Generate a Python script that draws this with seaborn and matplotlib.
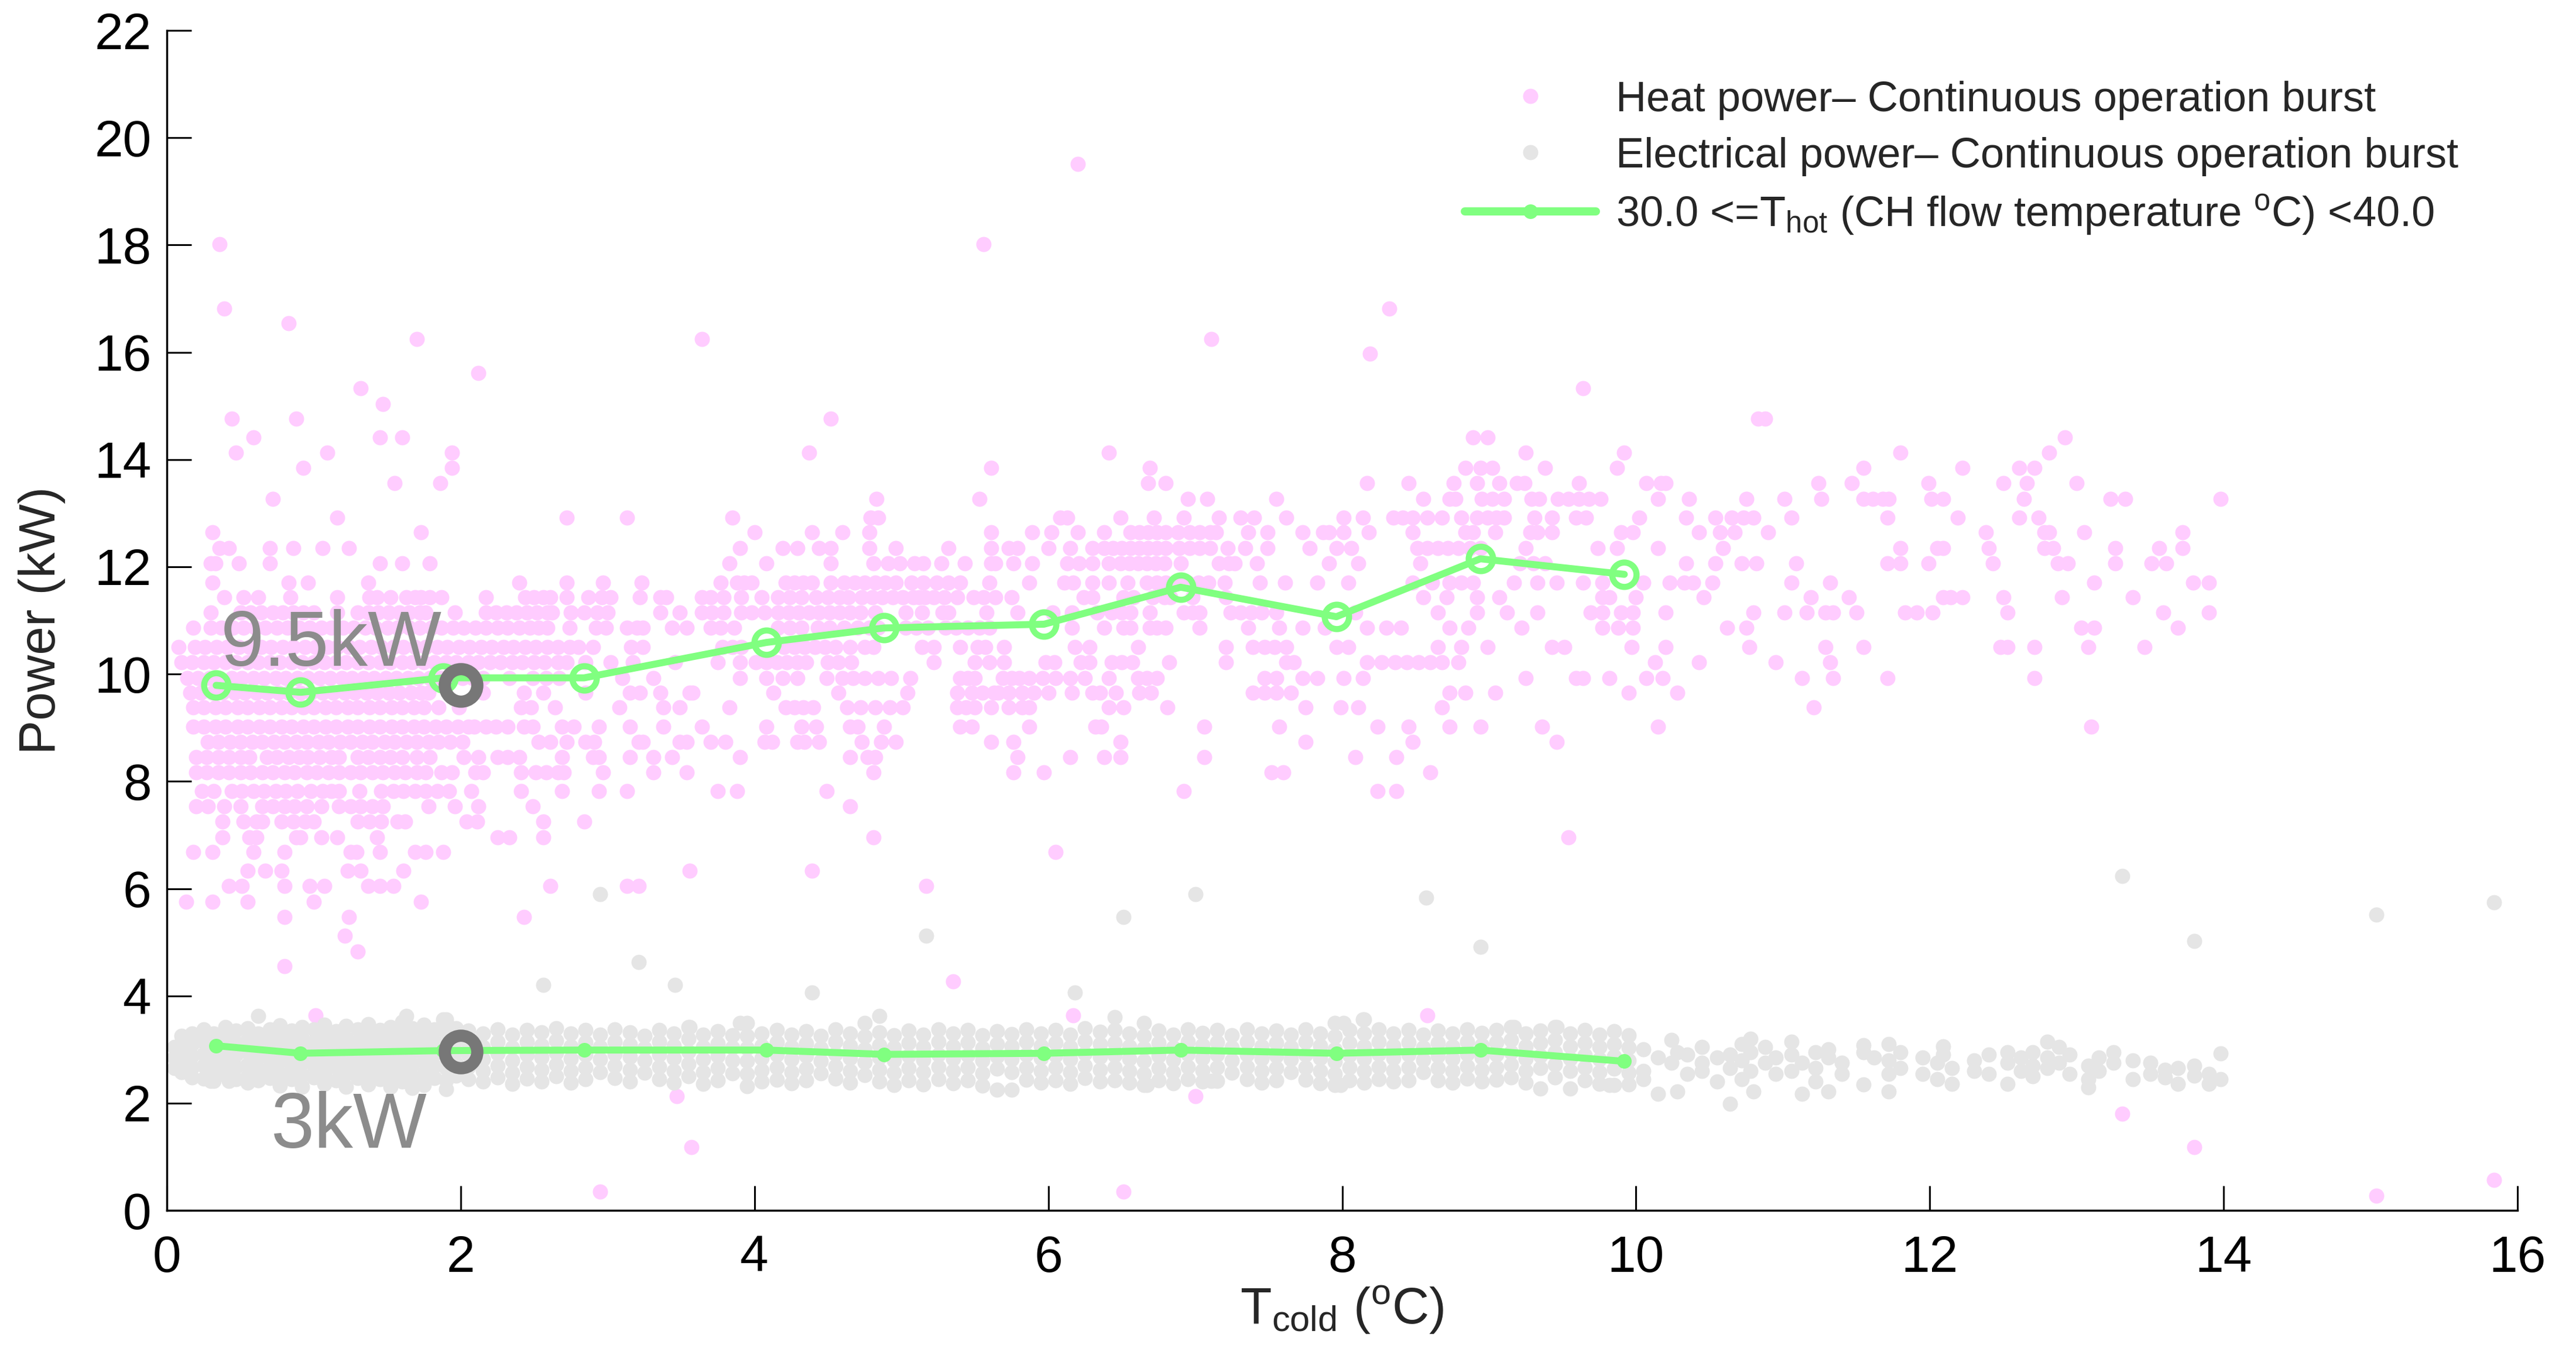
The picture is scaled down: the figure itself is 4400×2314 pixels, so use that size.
import numpy as np
import pandas as pd
import matplotlib
matplotlib.use("Agg")
import matplotlib.pyplot as plt
from matplotlib.lines import Line2D
import seaborn as sns

# ---------------- data ----------------
# Heat power points: each level (kW) with the T_cold values of the points on it
heat_levels = [19.51, 18.02, 16.82, 16.54, 16.25, 15.97, 15.61, 15.33, 15.04, 14.76,
               14.41, 14.13, 13.84, 13.56, 13.27, 12.92, 12.64, 12.35, 12.06, 11.71,
               11.43, 11.15, 10.86, 10.50, 10.22, 9.93, 9.65, 9.38, 9.02, 8.73,
               8.45, 8.17, 7.82, 7.53, 7.25, 6.96, 6.68, 6.33, 6.05, 5.76,
               5.47, 5.12, 4.83, 4.55, 4.27, 3.64, 2.13, 1.80, 1.18, 0.35,
               0.27, 0.57]
heat_level_x = [
    "6.20",
    "0.36 5.56",
    "0.39 8.32",
    "0.83",
    "1.70 3.64 7.11",
    "8.19",
    "2.12",
    "1.32 9.64",
    "1.47",
    "0.44 0.88 4.52 10.83 10.88",
    "0.59 1.45 1.60 8.89 8.99 12.92",
    "0.47 1.09 1.94 4.37 6.41 9.25 9.92 11.80 12.81",
    "0.93 1.94 5.61 6.69 8.84 8.94 9.02 9.38 9.87 11.55 12.22 12.61 12.71",
    "1.55 1.86 6.68 6.80 8.17 8.45 8.76 8.92 9.07 9.19 9.24 9.61 10.07 10.17 10.20 11.24 11.47 11.99 12.50 12.66 13.00",
    "0.72 4.83 5.53 6.95 7.08 7.55 8.55 8.73 8.77 8.95 9.02 9.10 9.29 9.34 9.47 9.54 9.61 9.68 9.76 10.15 10.36 10.75 11.01 11.26 11.55 11.61 11.68 11.72 12.01 12.09 12.64 13.23 13.33 13.98",
    "1.16 2.72 3.13 3.85 4.79 4.84 6.08 6.13 6.49 6.72 6.92 7.16 7.31 7.40 7.62 8.01 8.14 8.35 8.41 8.48 8.58 8.68 8.81 8.92 8.99 9.05 9.10 9.31 9.43 9.59 9.66 10.02 10.34 10.54 10.65 10.73 10.80 11.06 11.71 12.19 12.61 12.74",
    "0.31 1.73 4.00 4.39 4.60 4.78 5.61 5.89 6.02 6.20 6.38 6.56 6.62 6.68 6.74 6.80 6.88 6.96 7.03 7.10 7.14 7.36 7.49 7.73 7.87 7.91 8.01 8.18 8.48 8.84 8.89 9.04 9.28 9.33 9.43 9.90 9.98 10.43 10.57 10.67 10.90 12.38 12.78 12.81 13.05 13.72",
    "0.36 0.42 0.70 0.86 1.06 1.24 3.90 4.19 4.29 4.44 4.52 4.78 4.96 5.32 5.61 5.73 5.79 6.00 6.15 6.30 6.38 6.44 6.50 6.56 6.62 6.68 6.74 6.80 6.89 6.96 7.03 7.10 7.22 7.34 7.49 7.78 7.96 8.06 8.51 8.58 8.65 8.72 8.79 8.87 8.94 9.25 9.74 9.87 10.15 10.59 11.80 12.05 12.09 12.40 12.78 12.84 13.26 13.56 13.72",
    "0.30 0.33 0.49 0.70 1.45 1.60 1.79 3.83 4.08 4.52 4.81 4.91 4.99 5.09 5.15 5.27 5.43 5.61 5.64 5.76 5.89 6.13 6.21 6.30 6.41 6.49 6.55 6.61 6.67 6.73 6.79 6.90 7.16 7.23 7.27 7.42 7.91 8.11 8.53 9.21 9.30 9.38 10.34 10.54 10.72 10.82 11.09 11.71 11.80 11.99 12.43 12.87 12.94 13.26 13.51 13.61",
    "0.31 0.83 0.96 1.37 2.40 2.72 2.97 3.23 3.77 3.88 3.93 3.98 4.21 4.27 4.33 4.39 4.52 4.61 4.68 4.75 4.82 4.89 4.96 5.07 5.15 5.24 5.32 5.40 5.60 5.87 6.11 6.17 6.30 6.41 6.54 6.67 6.74 6.80 6.89 6.95 7.02 7.09 7.20 7.44 7.61 7.83 8.04 8.48 8.61 8.73 8.81 8.89 9.17 9.33 9.46 9.64 9.77 10.05 10.23 10.33 10.39 10.52 11.06 11.32 13.12 13.79 13.90",
    "0.39 0.52 0.62 0.84 1.16 1.38 1.43 1.52 1.63 1.69 1.73 1.79 1.87 2.17 2.44 2.50 2.56 2.61 2.72 2.87 2.96 3.02 3.22 3.36 3.40 3.64 3.70 3.79 3.91 4.05 4.16 4.24 4.32 4.42 4.50 4.58 4.64 4.73 4.80 4.87 4.94 5.01 5.08 5.12 5.16 5.22 5.29 5.38 5.49 5.56 5.64 5.75 6.24 6.30 6.51 6.58 6.71 6.79 6.83 6.98 7.21 8.55 8.71 8.92 9.07 9.77 9.82 10.00 10.46 11.19 11.45 12.09 12.14 12.22 12.50 12.90 13.38",
    "0.30 0.50 0.57 0.64 0.72 0.79 0.86 0.93 1.00 1.16 1.30 1.37 1.44 1.51 1.58 1.65 1.72 1.76 1.96 2.17 2.24 2.31 2.38 2.45 2.52 2.59 2.62 2.75 2.84 2.93 3.00 3.36 3.49 3.64 3.71 3.79 3.91 3.98 4.07 4.16 4.23 4.30 4.37 4.44 4.51 4.58 4.65 4.72 4.82 5.03 5.14 5.28 5.32 5.58 5.79 6.03 6.16 6.33 6.43 6.50 6.56 6.69 6.92 6.98 7.03 7.24 7.31 7.38 7.45 7.55 8.09 8.65 8.92 9.12 9.33 9.69 9.77 9.90 9.98 10.20 10.80 11.01 11.16 11.29 11.34 11.50 11.83 11.91 12.02 12.53 13.59 13.90",
    "0.18 0.30 0.37 0.45 0.52 0.60 0.67 0.75 0.82 0.90 0.97 1.05 1.12 1.20 1.27 1.35 1.42 1.50 1.57 1.65 1.72 1.80 1.87 1.95 2.02 2.10 2.17 2.25 2.32 2.40 2.47 2.53 2.59 2.74 2.92 2.99 3.13 3.20 3.24 3.44 3.54 3.70 3.77 3.86 4.16 4.24 4.32 4.43 4.51 4.61 4.70 4.78 4.84 5.03 5.10 5.18 5.30 5.37 5.45 5.53 5.60 6.16 6.38 6.51 6.56 6.69 6.74 6.80 7.03 7.36 7.57 7.73 7.88 8.17 8.30 8.40 8.73 8.86 9.22 9.77 9.88 9.98 10.62 10.75 13.03 13.12 13.69",
    "0.08 0.19 0.26 0.34 0.41 0.49 0.56 0.64 0.71 0.79 0.86 0.94 1.01 1.09 1.16 1.24 1.31 1.39 1.46 1.54 1.61 1.69 1.76 1.84 1.91 1.99 2.06 2.14 2.21 2.29 2.36 2.44 2.51 2.59 2.66 2.74 2.80 2.90 3.16 3.24 3.78 3.85 3.91 4.20 4.27 4.34 4.41 4.48 4.55 4.65 4.75 4.81 5.14 5.22 5.40 5.52 5.57 5.70 6.18 6.28 6.61 7.21 7.39 7.47 7.54 7.62 7.96 8.04 8.65 8.81 8.99 9.43 9.51 9.97 10.20 10.77 11.29 11.55 12.48 12.53 12.71 13.08 13.46",
    "0.10 0.17 0.25 0.32 0.40 0.47 0.55 0.62 0.70 0.77 0.85 0.92 1.00 1.07 1.15 1.22 1.30 1.37 1.45 1.52 1.60 1.67 1.75 1.82 1.90 1.97 2.05 2.12 2.20 2.27 2.35 2.42 2.50 2.57 2.66 2.72 2.85 3.02 3.17 3.46 3.75 3.90 4.01 4.08 4.15 4.22 4.29 4.35 4.50 4.57 4.66 5.22 5.50 5.60 5.70 5.98 6.04 6.22 6.28 6.43 6.50 6.57 6.82 7.21 7.62 7.67 8.17 8.27 8.36 8.44 8.52 8.60 8.68 8.79 10.13 10.43 10.95 11.32",
    "0.14 0.21 0.29 0.36 0.44 0.51 0.59 0.66 0.74 0.81 0.89 0.96 1.04 1.11 1.19 1.26 1.34 1.41 1.49 1.56 1.64 1.71 1.79 1.86 1.94 2.01 2.08 2.15 2.33 2.49 2.58 2.67 3.10 3.31 3.90 4.08 4.19 4.29 4.49 4.60 4.67 4.75 4.84 4.93 5.06 5.40 5.45 5.50 5.69 5.75 5.80 5.87 5.96 6.05 6.15 6.25 6.41 6.61 6.67 6.74 7.47 7.55 7.73 7.83 8.01 8.14 9.25 9.59 9.64 9.82 10.07 10.18 11.13 11.34 11.71 12.71",
    "0.16 0.23 0.31 0.38 0.46 0.53 0.61 0.68 0.76 0.83 0.91 0.98 1.06 1.13 1.21 1.28 1.36 1.43 1.51 1.58 1.66 1.73 1.78 2.15 2.43 2.56 2.85 3.15 3.22 3.36 3.56 3.58 4.13 4.57 5.04 5.38 5.48 5.55 5.63 5.66 5.73 5.82 5.90 6.00 6.16 6.30 6.35 6.46 6.62 6.70 7.39 7.47 7.55 7.65 8.73 8.84 9.04 9.95 10.28",
    "0.18 0.25 0.33 0.40 0.48 0.55 0.63 0.70 0.78 0.85 0.93 1.00 1.08 1.15 1.23 1.30 1.38 1.45 1.53 1.60 1.68 1.75 1.85 1.99 2.41 2.48 2.64 3.08 3.38 3.49 3.83 4.21 4.27 4.33 4.40 4.63 4.72 4.82 4.92 5.01 5.38 5.44 5.50 5.61 5.73 5.82 5.87 6.41 6.51 6.81 7.75 7.99 8.11 8.68 11.21",
    "0.18 0.25 0.33 0.40 0.48 0.55 0.63 0.70 0.78 0.85 0.93 1.00 1.08 1.15 1.23 1.30 1.38 1.45 1.53 1.60 1.68 1.75 1.83 1.90 1.98 2.05 2.09 2.17 2.24 2.32 2.43 2.49 2.69 2.77 2.94 3.15 3.38 3.64 4.08 4.32 4.42 4.65 4.70 4.88 5.40 5.48 5.87 6.32 6.36 7.06 7.57 8.24 8.45 8.73 8.94 9.36 10.15 13.10",
    "0.28 0.35 0.43 0.50 0.58 0.65 0.73 0.80 0.88 0.95 1.03 1.10 1.18 1.25 1.33 1.40 1.48 1.55 1.63 1.70 1.78 1.85 1.93 2.01 2.53 2.61 2.72 2.85 2.91 3.21 3.24 3.49 3.54 3.70 3.80 4.07 4.12 4.29 4.34 4.44 4.73 4.86 4.96 5.61 5.76 6.49 7.75 8.48 9.46",
    "0.20 0.27 0.35 0.42 0.50 0.56 0.68 0.75 0.83 0.90 0.96 1.04 1.12 1.17 1.30 1.37 1.45 1.52 1.60 1.70 1.79 2.02 2.12 2.25 2.32 2.40 2.69 2.90 2.94 3.15 3.31 3.44 3.90 4.65 4.77 4.82 5.79 6.15 6.38 6.49 7.06 8.09 8.37",
    "0.20 0.27 0.35 0.42 0.50 0.57 0.65 0.72 0.80 0.87 0.95 1.02 1.10 1.17 1.25 1.32 1.40 1.47 1.55 1.62 1.70 1.76 1.87 1.94 2.10 2.15 2.41 2.51 2.58 2.66 2.70 2.97 3.31 3.54 4.81 5.76 5.97 7.52 7.60 8.60",
    "0.24 0.32 0.44 0.51 0.59 0.66 0.74 0.81 0.89 0.98 1.06 1.12 1.17 1.31 1.46 1.54 1.61 1.69 1.76 1.84 1.92 2.07 2.41 2.69 2.94 3.13 3.75 3.88 4.49 6.92 8.24 8.37",
    "0.20 0.28 0.39 0.50 0.65 0.72 0.80 0.87 0.95 1.05 1.17 1.25 1.32 1.40 1.47 1.78 1.96 2.12 2.49 4.65",
    "0.38 0.52 0.61 0.65 0.78 0.86 0.94 1.00 1.30 1.38 1.46 1.57 1.62 2.04 2.11 2.56 2.84",
    "0.38 0.56 0.61 0.88 0.91 1.05 1.16 1.43 2.25 2.33 2.56 4.81 9.54",
    "0.18 0.31 0.59 0.80 1.25 1.29 1.45 1.69 1.76 1.88 6.05",
    "0.55 0.67 0.78 1.23 1.32 1.61 3.56 4.39",
    "0.42 0.51 0.80 0.97 1.07 1.37 1.45 1.54 2.61 3.13 3.21 5.17",
    "0.13 0.31 0.55 1.00 1.73",
    "0.80 1.24 2.43",
    "1.21",
    "1.30",
    "0.80",
    "5.35",
    "1.01 6.17 8.58",
    "3.47 7.00",
    "13.31",
    "3.57 13.80",
    "2.95 6.51",
    "15.04",
    "15.84",
]

# Electrical power points: columns of T_cold with the power values read in each column
elec_col_x = [0.05, 0.10, 0.17, 0.25, 0.32, 0.40, 0.47, 0.55, 0.62, 0.70,
              0.77, 0.85, 0.92, 1.00, 1.07, 1.15, 1.22, 1.30, 1.37, 1.45,
              1.52, 1.60, 1.67, 1.75, 1.82, 1.90, 1.97,
              2.05, 2.15, 2.25, 2.35, 2.45, 2.55, 2.65, 2.75, 2.85, 2.95,
              3.05, 3.15, 3.25, 3.35, 3.45, 3.55, 3.65, 3.75, 3.85, 3.95,
              4.05, 4.15, 4.25, 4.35, 4.45, 4.55, 4.65, 4.75, 4.85, 4.95,
              5.05, 5.15, 5.25, 5.35, 5.45, 5.55, 5.65, 5.75, 5.85, 5.95,
              6.05, 6.15, 6.25, 6.35, 6.45, 6.55, 6.65, 6.75, 6.85, 6.95,
              7.05, 7.15, 7.25, 7.35, 7.45, 7.55, 7.65, 7.75, 7.85, 7.95,
              8.05, 8.15, 8.25, 8.35, 8.45, 8.55, 8.65, 8.75, 8.85, 8.95,
              9.05, 9.15, 9.25, 9.35, 9.45, 9.55, 9.65, 9.75, 9.85, 9.95,
              10.05, 10.15, 10.24, 10.28, 10.35, 10.45, 10.55, 10.64, 10.72, 10.78,
              10.80, 10.88, 10.95, 11.06, 11.13, 11.22, 11.31, 11.40, 11.55, 11.62,
              11.72, 11.80, 11.95, 12.05, 12.09, 12.15, 12.30, 12.40, 12.53, 12.62,
              12.70, 12.80, 12.88, 12.95, 13.08, 13.15, 13.25, 13.38, 13.50, 13.60,
              13.69, 13.80, 13.90, 13.98]
elec_col_y = [
    "3.05 2.85 2.65", "3.25 3.02 2.80 2.58", "3.30 3.10 2.88 2.66 2.48", "3.38 3.15 2.92 2.70 2.46",
    "3.30 3.07 2.85 2.62 2.41", "3.42 3.20 2.98 2.75 2.52", "3.35 3.12 2.90 2.68 2.45",
    "3.40 3.18 2.95 2.72 2.50 2.38", "3.63 3.30 3.08 2.85 2.62 2.42", "3.38 3.15 2.92 2.70 2.47",
    "3.45 3.22 3.00 2.78 2.55 2.33", "3.35 3.12 2.90 2.68 2.45", "3.42 3.20 2.98 2.75 2.52 2.30",
    "3.38 3.15 2.93 2.70 2.48", "3.46 3.24 3.02 2.80 2.58 2.36", "3.34 3.12 2.89 2.66 2.43",
    "3.44 3.21 2.99 2.76 2.54 2.31", "3.37 3.14 2.92 2.70 2.47", "3.47 3.25 3.03 2.80 2.57 2.35",
    "3.36 3.13 2.91 2.68 2.45", "3.42 3.20 2.97 2.74 2.52 2.30", "3.52 3.30 3.08 2.85 2.62 2.40",
    "3.40 3.17 2.95 2.72 2.49 2.28", "3.46 3.24 3.01 2.78 2.56 2.34", "3.38 3.16 2.93 2.70 2.47",
    "3.56 3.33 3.10 2.88 2.65 2.42 2.26", "3.40 3.18 2.96 2.74 2.51",
    "3.35 3.12 2.90 2.68 2.45", "3.30 3.05 2.82 2.60 2.40", "3.38 3.15 2.93 2.70 2.48",
    "3.28 3.04 2.80 2.57 2.36", "3.36 3.14 2.91 2.68 2.46", "3.32 3.08 2.85 2.62 2.40",
    "3.40 3.17 2.94 2.72 2.50", "3.30 3.06 2.83 2.60 2.38", "3.36 3.13 2.90 2.67 2.45",
    "3.28 3.05 2.82 2.58",
    "3.38 3.15 2.92 2.70 2.47", "3.32 3.09 2.86 2.62 2.40", "3.26 3.03 2.80 2.57",
    "3.36 3.14 2.91 2.68 2.45", "3.30 3.07 2.84 2.60 2.38", "3.42 3.20 2.96 2.73 2.50",
    "3.28 3.05 2.82 2.58 2.36", "3.34 3.11 2.88 2.65 2.42", "3.27 3.04 2.80 2.56",
    "3.49 3.25 3.02 2.78 2.55 2.32",
    "3.30 3.07 2.84 2.61 2.40", "3.36 3.13 2.90 2.66 2.44", "3.28 3.05 2.82 2.58 2.37",
    "3.34 3.11 2.88 2.64 2.42", "3.26 3.02 2.79 2.56", "3.38 3.15 2.92 2.69 2.46",
    "3.30 3.07 2.84 2.60 2.38", "3.49 3.24 3.00 2.76 2.52", "3.63 3.32 3.08 2.85 2.62 2.40",
    "3.27 3.04 2.80 2.57 2.34",
    "3.35 3.12 2.88 2.65 2.42", "3.28 3.05 2.81 2.58 2.35", "3.38 3.15 2.91 2.68 2.45",
    "3.30 3.06 2.83 2.60 2.37", "3.36 3.13 2.89 2.66 2.43", "3.27 3.03 2.80 2.56 2.33",
    "3.34 3.10 2.87 2.64 2.25", "3.29 3.06 2.82 2.58 2.25", "3.37 3.14 2.90 2.67 2.44",
    "3.30 3.07 2.84 2.60 2.38",
    "3.36 3.12 2.89 2.66 2.43", "3.28 3.05 2.82 2.58 2.36", "3.40 3.16 2.93 2.70 2.47",
    "3.33 3.10 2.86 2.62 2.40", "3.60 3.36 3.12 2.89 2.66 2.43", "3.30 3.06 2.83 2.60 2.38",
    "3.49 3.25 3.02 2.78 2.55 2.34", "3.35 3.12 2.88 2.65 2.42", "3.28 3.04 2.81 2.58 2.37",
    "3.38 3.15 2.92 2.68 2.45",
    "3.31 3.08 2.84 2.61 2.40", "3.36 3.13 2.90 2.66 2.41", "3.27 3.04 2.80 2.57",
    "3.38 3.14 2.91 2.68 2.45", "3.30 3.06 2.83 2.60 2.38", "3.35 3.12 2.88 2.65 2.42",
    "3.28 3.05 2.82 2.58", "3.37 3.14 2.90 2.67 2.44", "3.30 3.07 2.84 2.60 2.37",
    "3.49 3.24 3.00 2.77 2.54 2.34",
    "3.36 3.12 2.89 2.66 2.43", "3.56 3.30 3.06 2.83 2.60 2.38", "3.38 3.15 2.92 2.68 2.45",
    "3.30 3.07 2.84 2.61 2.40", "3.36 3.13 2.90 2.66 2.43", "3.28 3.04 2.81 2.58",
    "3.35 3.12 2.88 2.65 2.42", "3.30 3.06 2.83 2.60 2.38", "3.38 3.15 2.92 2.69 2.46",
    "3.31 3.08 2.85 2.62 2.40",
    "3.36 3.13 2.90 2.67 2.44", "3.42 3.18 2.95 2.72 2.48", "3.30 3.06 2.83 2.60 2.38",
    "3.35 3.12 2.88 2.65 2.27", "3.42 3.18 2.95 2.72 2.48", "3.30 3.06 2.83 2.60 2.27",
    "3.36 3.12 2.89 2.66 2.43", "3.28 3.05 2.82 2.58 2.36", "3.34 3.10 2.87 2.64 2.34",
    "3.27 3.04 2.80 2.57 2.35",
    "3.00 2.60 2.45", "2.17 2.85", "3.18 2.75", "2.22 2.95", "2.90 2.55",
    "3.05 2.75 2.60", "2.85 2.40", "1.99 2.90 2.65", "3.10 2.80 2.45", "3.20 2.95 2.60",
    "2.22", "2.75 3.05", "2.85 2.55", "3.15 2.90 2.60", "2.17 2.75",
    "2.95 2.65 2.40", "2.22 2.85 3.00", "2.75 2.55", "3.08 2.95 2.35", "2.85",
    "3.10 2.80 2.22 2.55", "2.95 2.65", "2.55 2.85", "2.75 2.45", "3.06 2.90",
    "2.36 2.65", "2.80 2.60", "2.90 2.55", "2.36 2.75 2.95", "2.85 2.60",
    "2.95 2.70 2.50", "3.15 2.85 2.65", "3.05 2.75", "2.90 2.55", "2.29 2.45 2.70",
    "2.85 2.60", "2.75 2.95", "2.80 2.45", "2.55 2.75", "2.62 2.48",
    "2.36 2.65", "2.51 2.70", "2.36 2.55", "2.93 2.45",
]
elec_extra_x = [2.95, 7.00, 8.57, 6.51, 5.17, 8.94, 3.21, 2.56, 3.46, 4.39, 6.18,
                13.31, 13.80, 15.04, 15.84, 1.63, 1.88, 3.56, 3.90, 9.17, 9.46,
                8.01, 8.14, 6.67, 7.11, 7.99, 9.82, 0.30, 0.42]
elec_extra_y = [5.90, 5.90, 5.83, 5.47, 5.12, 4.91, 4.63, 4.20, 4.20, 4.06, 4.06,
                6.24, 5.02, 5.52, 5.74, 3.63, 3.56, 3.42, 3.49, 3.42, 3.42,
                3.49, 3.56, 2.34, 2.41, 2.34, 2.34, 2.41, 2.41]

# Binned means for 30 <= T_hot < 40
bin_x = [0.335, 0.91, 1.88, 2.84, 4.08, 4.88, 5.97, 6.90, 7.96, 8.94, 9.92]
heat_mean = [9.79, 9.66, 9.93, 9.93, 10.59, 10.86, 10.93, 11.62, 11.07, 12.15, 11.86]
elec_mean = [3.07, 2.93, 2.98, 2.99, 2.99, 2.91, 2.93, 2.99, 2.93, 2.99, 2.78]

# Highlighted design points
mark_x = [2.0, 2.0]
mark_y = [9.79, 2.96]
mark_text = ["9.5kW", "3kW"]
mark_text_x = [1.12, 1.24]
mark_text_y = [10.15, 1.17]

legend_labels = ["Heat power\u2013 Continuous operation burst",
                 "Electrical power\u2013 Continuous operation burst",
                 "30.0 <=T$_{\\mathrm{hot}}$ (CH flow temperature $^{\\mathrm{o}}$C) <40.0"]

# ---------------- build point tables ----------------
hx, hy = [], []
for lvl, s in zip(heat_levels, heat_level_x):
    xs = [float(v) for v in s.split()]
    hx += xs
    hy += [lvl] * len(xs)
ex, ey = [], []
for cx, s in zip(elec_col_x, elec_col_y):
    ys = [float(v) for v in s.split()]
    ex += [cx] * len(ys)
    ey += ys
ex += elec_extra_x
ey += elec_extra_y
heat_df = pd.DataFrame({"T_cold": hx, "Power": hy})
elec_df = pd.DataFrame({"T_cold": ex, "Power": ey})

# ---------------- style ----------------
sns.set_theme(style="white")
plt.rcParams["font.family"] = ["Liberation Sans", "DejaVu Sans"]
plt.rcParams["mathtext.fontset"] = "custom"
plt.rcParams["mathtext.rm"] = "Liberation Sans"
plt.rcParams["mathtext.it"] = "Liberation Sans:italic"
plt.rcParams["mathtext.bf"] = "Liberation Sans:bold"

PINK = "#FFCCFF"
GRAY = "#E5E5E5"
GREEN = "#80FF80"
DARK = "#777777"
TXTGRAY = "#8C8C8C"

fig = plt.figure(figsize=(44, 23.14), dpi=100)
ax = fig.add_axes([0.0648, 0.1067, 0.9125, 0.8708])

sns.scatterplot(data=heat_df, x="T_cold", y="Power", color=PINK, s=350,
                linewidth=0, ax=ax, zorder=1, legend=False)
sns.scatterplot(data=elec_df, x="T_cold", y="Power", color=GRAY, s=350,
                linewidth=0, ax=ax, zorder=2, legend=False)

sns.lineplot(x=bin_x, y=heat_mean, color=GREEN, lw=8.6, sort=False, ax=ax,
             legend=False, zorder=3)
ax.lines[-1].set(marker="o", markersize=30, markerfacecolor="none",
                 markeredgecolor=GREEN, markeredgewidth=7.5)
sns.lineplot(x=bin_x, y=elec_mean, color=GREEN, lw=8.6, sort=False, ax=ax,
             legend=False, zorder=3)
ax.lines[-1].set(marker="o", markersize=18, markerfacecolor=GREEN,
                 markeredgecolor=GREEN, markeredgewidth=0)

ax.plot(mark_x, mark_y, ls="none", marker="o", ms=40, mfc="none", mec=DARK,
        mew=15, zorder=4)
for tx, ty, t in zip(mark_text_x, mark_text_y, mark_text):
    ax.text(tx, ty, t, fontsize=96, color=TXTGRAY, ha="center", va="baseline",
            zorder=5)

ax.set_xlim(0, 16)
ax.set_ylim(0, 22)
ax.set_xticks(np.arange(0, 17, 2))
ax.set_yticks(np.arange(0, 23, 2))
for side in ["top", "right"]:
    ax.spines[side].set_visible(False)
for side in ["left", "bottom"]:
    ax.spines[side].set_linewidth(2.5)
    ax.spines[side].set_color("black")
ax.tick_params(axis="both", which="major", direction="in", length=30, width=2.2,
               colors="black", labelsize=63, bottom=True, left=True,
               top=False, right=False)
ax.tick_params(axis="y", pad=19)
ax.tick_params(axis="x", pad=30)

ax.set_xlabel("T$_{\\mathrm{cold}}$ ($^{\\mathrm{o}}$C)", fontsize=63)
ax.set_ylabel("Power (kW)", fontsize=63)
ax.xaxis.set_label_coords(0.5, -0.063)
ax.yaxis.set_label_coords(-0.043, 0.5)

handles = [
    Line2D([], [], ls="none", marker="o", ms=18.7, mfc=PINK, mec="none"),
    Line2D([], [], ls="none", marker="o", ms=18.7, mfc=GRAY, mec="none"),
    Line2D([], [], color=GREEN, lw=10, marker="o", ms=18, mfc=GREEN, mec="none"),
]
fig.legend(handles, legend_labels, loc="upper left", bbox_to_anchor=(0.5686, 0.9405),
           frameon=False, fontsize=52, handlelength=3.1, handletextpad=0.47,
           labelspacing=0.4, borderpad=0, borderaxespad=0, numpoints=1)

fig.savefig("out.png", dpi=100, facecolor="white")
